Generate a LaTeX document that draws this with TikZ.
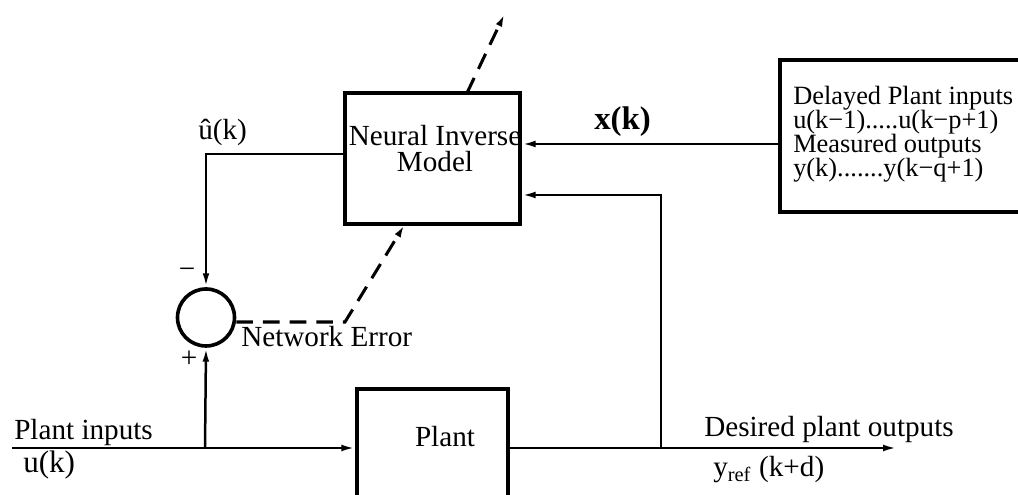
\documentclass[tikz,border=0pt]{standalone}
\usepackage{fontspec}
\setmainfont{Liberation Serif}
\usetikzlibrary{arrows.meta,positioning}

\begin{document}
\begin{tikzpicture}[x=0.36pt, y=-0.36pt, >={Latex[length=5pt,width=2.4pt]},
    line width=0.9pt, font=\fontsize{10.5}{9.7}\selectfont]

    \tikzset{blk/.style={draw, line width=1.2pt, inner sep=0pt},
        lbl/.style={inner sep=0pt, anchor=base west},
        err/.style={dash pattern=on 6pt off 3.6pt, line width=1.1pt}}

    \useasboundingbox (0,0) rectangle (1018,495);

    % blocks
    \node[blk, minimum width=175*0.36pt, minimum height=131*0.36pt] (nim) at (432.5,158.5) {};
    \node[blk, minimum width=151*0.36pt, minimum height=130*0.36pt] (plant) at (432.5,454) {};
    \node[blk, minimum width=250*0.36pt, minimum height=152*0.36pt] (hist) at (905,136) {};
    \node[blk, circle, line width=1.3pt, minimum size=57*0.36pt] (sum) at (206,317.5) {};

    % block texts (base = last line)
    \node[inner sep=0pt, anchor=base, align=center] (nimtxt) at (435,172) {Neural Inverse\\Model};
    \node[inner sep=0pt, anchor=base] (planttxt) at (445,447) {Plant};
    \node[lbl, align=left, font=\fontsize{9.5}{8.7}\selectfont] (histtxt) at (792,177)
        {Delayed Plant inputs\\u(k−1).....u(k−p+1)\\Measured outputs\\y(k).......y(k−q+1)};

    % junctions
    \coordinate (in) at (12,448);
    \coordinate (out) at (897,448);
    \coordinate (split) at (205,448);
    \coordinate (tap) at (661,448);
    \coordinate (fb) at (661,195);
    \coordinate (xrow) at (700,144);
    \coordinate (urow) at (300,154);
    \coordinate (bend) at (345,322);
    \coordinate (errtip) at (405,224);
    \coordinate (lrnbase) at (467,93);
    \coordinate (lrntip) at (505,13);

    % signal paths
    \draw[->] (in) -- (plant.west |- in);
    \draw[->] (split) -- (sum.south);
    \draw[->] (plant.east |- out) -- (out);
    \draw[->] (tap) -- (fb) -- (nim.east |- fb);
    \draw[->] (hist.west |- xrow) -- (nim.east |- xrow);
    \draw[->] (nim.west |- urow) -| (sum.north);

    % network error and learning
    \draw[err, ->] (sum.east |- bend) -- (bend) -- (errtip);
    \draw[err, ->] (lrnbase) -- (lrntip);

    % labels
    \node[lbl] (uhat) at (197,140) {û(k)};
    \node[inner sep=0pt] (minus) at (187,273) {−};
    \node[inner sep=0pt] (plus) at (189,359) {+};
    \node[lbl] (errlbl) at (240,347) {Network Error};
    \node[lbl, font=\fontsize{11.8}{11}\selectfont\bfseries] (xk) at (593,130) {x(k)};
    \node[lbl] (inlbl) at (13,440) {Plant inputs};
    \node[lbl, font=\fontsize{11.2}{11}\selectfont] (uk) at (22,473) {u(k)};
    \node[lbl] (outlbl) at (703,437) {Desired plant outputs};
    \node[lbl] (yref) at (712,477) {y\textsubscript{ref} (k+d)};

\end{tikzpicture}
\end{document}
